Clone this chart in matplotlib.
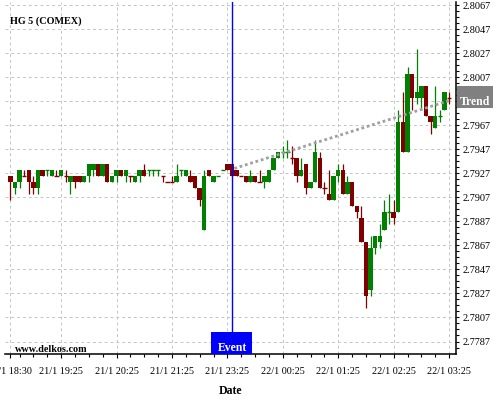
import numpy as np
import matplotlib as mpl
import matplotlib.pyplot as plt
from matplotlib.patches import Rectangle
from matplotlib.transforms import blended_transform_factory
from matplotlib.ticker import FixedLocator

mpl.rcParams['font.family'] = ['Liberation Serif', 'DejaVu Serif']

# ---- data: 5-minute bars, HG (COMEX) ----
opens = [2.7925, 2.7915, 2.7920, 2.7925, 2.7930, 2.7920, 2.7915, 2.7930, 2.7930, 2.7925,
         2.7925, 2.7925, 2.7925, 2.7920, 2.7925, 2.7925, 2.7920, 2.7925, 2.7930, 2.7935,
         2.7925, 2.7935, 2.7920, 2.7925, 2.7930, 2.7925, 2.7925, 2.7920, 2.7925, 2.7930,
         2.7930, 2.7930, 2.7930, 2.7925, 2.7920, 2.7920, 2.7920, 2.7930, 2.7925, 2.7925,
         2.7925, 2.7915, 2.7880, 2.7930, 2.7920, 2.7925, 2.7930, 2.7935, 2.7935, 2.7930,
         2.7925, 2.7925, 2.7920, 2.7925, 2.7920, 2.7920, 2.7920, 2.7930, 2.7940, 2.7945,
         2.7945, 2.7940, 2.7940, 2.7925, 2.7935, 2.7915, 2.7920, 2.7940, 2.7915, 2.7910,
         2.7905, 2.7925, 2.7930, 2.7910, 2.7920, 2.7900, 2.7890, 2.7870, 2.7830, 2.7865,
         2.7870, 2.7880, 2.7895, 2.7895, 2.7895, 2.7970, 2.7945, 2.8010, 2.7990, 2.7990,
         2.8000, 2.7975, 2.7965, 2.7975, 2.7980, 2.7990]
highs = [2.7925, 2.7920, 2.7930, 2.7930, 2.7930, 2.7925, 2.7930, 2.7930, 2.7930, 2.7930,
         2.7930, 2.7930, 2.7930, 2.7925, 2.7925, 2.7925, 2.7925, 2.7935, 2.7935, 2.7935,
         2.7935, 2.7935, 2.7925, 2.7930, 2.7930, 2.7930, 2.7925, 2.7925, 2.7930, 2.7935,
         2.7930, 2.7930, 2.7930, 2.7925, 2.7920, 2.7925, 2.7935, 2.7930, 2.7930, 2.7930,
         2.7925, 2.7915, 2.7930, 2.7930, 2.7925, 2.7925, 2.7930, 2.7935, 2.7935, 2.7930,
         2.7925, 2.7925, 2.7930, 2.7925, 2.7930, 2.7925, 2.7930, 2.7940, 2.7945, 2.7950,
         2.7955, 2.7950, 2.7940, 2.7940, 2.7935, 2.7920, 2.7955, 2.7945, 2.7920, 2.7930,
         2.7925, 2.7935, 2.7935, 2.7925, 2.7920, 2.7900, 2.7900, 2.7870, 2.7875, 2.7875,
         2.7885, 2.7905, 2.7910, 2.7905, 2.7980, 2.7995, 2.8015, 2.8010, 2.8030, 2.8000,
         2.8000, 2.7975, 2.8000, 2.7980, 2.7995, 2.7995]
lows = [2.7905, 2.7910, 2.7915, 2.7925, 2.7910, 2.7910, 2.7910, 2.7925, 2.7925, 2.7925,
        2.7925, 2.7925, 2.7920, 2.7910, 2.7915, 2.7920, 2.7920, 2.7920, 2.7925, 2.7925,
        2.7925, 2.7920, 2.7920, 2.7920, 2.7925, 2.7920, 2.7920, 2.7920, 2.7920, 2.7925,
        2.7925, 2.7925, 2.7925, 2.7920, 2.7920, 2.7920, 2.7920, 2.7925, 2.7925, 2.7920,
        2.7915, 2.7900, 2.7880, 2.7925, 2.7920, 2.7925, 2.7930, 2.7930, 2.7925, 2.7925,
        2.7925, 2.7920, 2.7920, 2.7920, 2.7920, 2.7915, 2.7920, 2.7930, 2.7940, 2.7940,
        2.7940, 2.7935, 2.7920, 2.7925, 2.7910, 2.7915, 2.7920, 2.7915, 2.7910, 2.7905,
        2.7905, 2.7920, 2.7910, 2.7910, 2.7900, 2.7890, 2.7870, 2.7815, 2.7825, 2.7860,
        2.7865, 2.7880, 2.7885, 2.7885, 2.7895, 2.7945, 2.7945, 2.7980, 2.7985, 2.7980,
        2.7975, 2.7960, 2.7965, 2.7970, 2.7980, 2.7985]
closes = [2.7920, 2.7920, 2.7930, 2.7925, 2.7920, 2.7915, 2.7930, 2.7925, 2.7930, 2.7930,
          2.7925, 2.7930, 2.7925, 2.7925, 2.7920, 2.7920, 2.7925, 2.7935, 2.7935, 2.7925,
          2.7935, 2.7920, 2.7925, 2.7930, 2.7925, 2.7930, 2.7925, 2.7925, 2.7930, 2.7925,
          2.7930, 2.7930, 2.7930, 2.7925, 2.7920, 2.7920, 2.7925, 2.7930, 2.7930, 2.7920,
          2.7915, 2.7905, 2.7925, 2.7925, 2.7925, 2.7925, 2.7930, 2.7930, 2.7925, 2.7925,
          2.7925, 2.7920, 2.7925, 2.7920, 2.7920, 2.7925, 2.7930, 2.7940, 2.7945, 2.7945,
          2.7945, 2.7940, 2.7925, 2.7930, 2.7915, 2.7920, 2.7945, 2.7915, 2.7915, 2.7905,
          2.7925, 2.7930, 2.7910, 2.7920, 2.7900, 2.7895, 2.7870, 2.7825, 2.7865, 2.7875,
          2.7875, 2.7895, 2.7895, 2.7890, 2.7970, 2.7945, 2.8010, 2.7990, 2.7995, 2.8000,
          2.7975, 2.7970, 2.7975, 2.7975, 2.7995, 2.7990]

tick_idx = [0, 11, 23, 35, 47, 59, 71, 83, 95]
tick_labels = ['21/1 18:30', '21/1 19:25', '21/1 20:25', '21/1 21:25', '21/1 23:25',
               '22/1 00:25', '22/1 01:25', '22/1 02:25', '22/1 03:25']
y_ticks = [2.7787 + 0.002 * k for k in range(15)]
event_idx = 48
trend_x = [48.5, 95.5]
trend_y = [2.7931, 2.7988]

GREEN = '#008000'
RED = '#800000'

# ---- candle colours: body direction, ties follow the previous close / colour ----
o = np.array(opens); h = np.array(highs); l = np.array(lows); c = np.array(closes)
idx = np.arange(len(o))
cols = []
for i in idx:
    if c[i] > o[i]:
        cols.append(GREEN)
    elif c[i] < o[i]:
        cols.append(RED)
    elif i > 0 and c[i] != c[i - 1]:
        cols.append(GREEN if c[i] > c[i - 1] else RED)
    else:
        cols.append(cols[-1] if cols else GREEN)

fig = plt.figure(figsize=(5, 4), dpi=100)
ax = fig.add_axes([0.01, 0.115, 0.902, 0.88])

# grid
for t in tick_idx:
    ax.axvline(t, color='#c4c4c4', lw=0.7, ls=(0, (3, 3)), zorder=0)
for t in y_ticks:
    ax.axhline(t, color='#c4c4c4', lw=0.7, ls=(0, (3, 3)), zorder=0)

# candles
ax.vlines(idx, l, h, colors=cols, lw=0.9, zorder=2)
body = np.abs(c - o)
ax.bar(idx, body, bottom=np.minimum(o, c), width=0.95, color=cols, lw=0, zorder=3)
doji = body == 0
ax.hlines(c[doji], idx[doji] - 0.48, idx[doji] + 0.48,
          colors=[cols[i] for i in idx[doji]], lw=1.0, zorder=3)

# trend line
ax.plot(trend_x, trend_y, color='#a0a0a0', lw=2.0, ls=(0, (1, 1)), zorder=4)

# event marker
tr = blended_transform_factory(ax.transData, ax.transAxes)
ax.axvline(event_idx, ymin=0.063, ymax=1, color='#0000ff', lw=1.0, zorder=5)
ax.add_patch(Rectangle((event_idx - 4.55, 0), 8.9, 0.063, transform=tr,
                       fc='#0000ff', ec='none', zorder=6, clip_on=False))
ax.text(event_idx, 0.009, 'Event', transform=tr, ha='center', va='baseline',
        color='white', fontsize=8.5, fontweight='bold', zorder=7)

ax.set_xlim(-1.15, 96.5)
ax.set_ylim(2.77766, 2.80695)

for s in ['left', 'top']:
    ax.spines[s].set_visible(False)
ax.spines['bottom'].set_linewidth(1.1)
ax.spines['right'].set_linewidth(1.1)

ax.set_xticks(tick_idx)
ax.set_xticklabels(tick_labels)
ax.xaxis.set_minor_locator(FixedLocator(list(range(2, 97, 3))))
ax.yaxis.tick_right()
ax.set_yticks(y_ticks)
ax.set_yticklabels(['%.4f' % v for v in y_ticks])
ax.yaxis.set_minor_locator(FixedLocator([2.7787 + 0.0005 * k for k in range(-1, 58)]))
ax.tick_params(axis='x', which='major', length=3, width=0.8, pad=6, labelsize=7.3)
ax.tick_params(axis='x', which='minor', length=2.2, width=0.8)
ax.tick_params(axis='y', which='major', length=2.5, width=0.8, pad=2, labelsize=7.4)
ax.tick_params(axis='y', which='minor', length=2.0, width=0.8)
for lab in ax.get_yticklabels():
    lab.set_verticalalignment('center_baseline')

# labels
fig.text(0.021, 0.94, 'HG 5 (COMEX)', fontsize=7.3, fontweight='bold', va='baseline')
fig.text(0.03, 0.12, 'www.delkos.com', fontsize=7.3, fontweight='bold', va='baseline')
fig.text(0.46, 0.015, 'Date', fontsize=8.5, fontweight='bold', ha='center', va='baseline')

# trend tag
fig.patches.append(Rectangle((0.914, 0.731), 0.072, 0.054, transform=fig.transFigure,
                             fc='#808080', ec='none', zorder=5))
fig.text(0.951, 0.7375, 'Trend', fontsize=8.5, fontweight='bold', color='white',
         ha='center', va='baseline', zorder=6)

fig.savefig('out.png', dpi=100)
